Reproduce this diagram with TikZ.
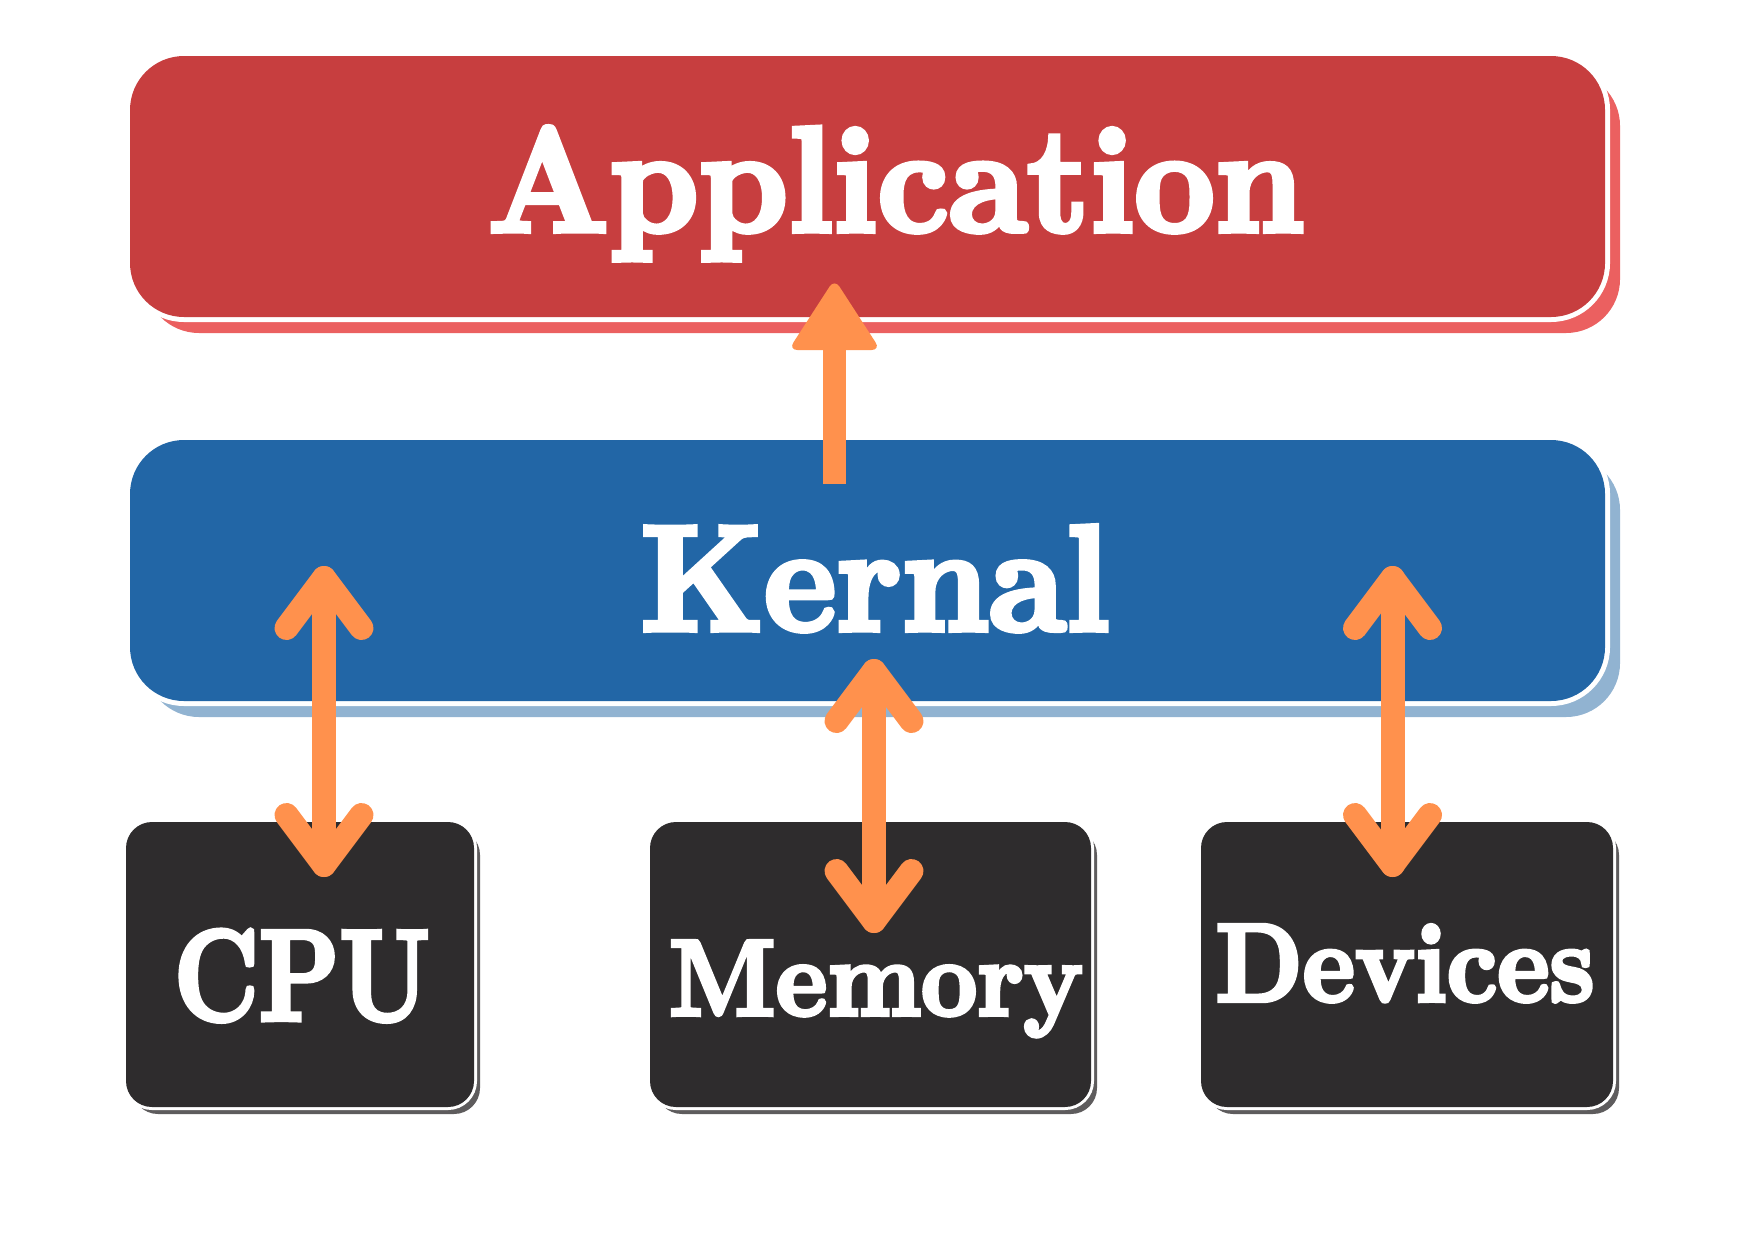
\documentclass[tikz,border=0pt]{standalone}
\usepackage{fontspec}
\usepackage{graphicx}
\newfontfamily\lblfont{lmroman10-bold.otf}[FakeBold=4]
\usetikzlibrary{shadows,calc}
\definecolor{appred}{HTML}{C73E3F}
\definecolor{appshadow}{HTML}{EB6060}
\definecolor{kblue}{HTML}{2266A6}
\definecolor{kshadow}{HTML}{91B3D1}
\definecolor{darkbox}{HTML}{2E2C2D}
\definecolor{darkshadow}{HTML}{5E5C5D}
\definecolor{arrorange}{HTML}{FF914D}
\begin{document}
\begin{tikzpicture}[x=1bp,y=-1bp,
  bigbox/.style={inner sep=0pt, outer sep=0pt, rounded corners=54bp, anchor=north west,
    minimum width=1475bp, minimum height=261bp,
    drop shadow={shadow xshift=15bp, shadow yshift=-16bp, fill=#1, opacity=1},
    preaction={draw=white, line width=10bp}},
  smallbox/.style={inner sep=0pt, outer sep=0pt, rounded corners=26bp, anchor=north west,
    minimum height=285bp, fill=darkbox,
    drop shadow={shadow xshift=6bp, shadow yshift=-7bp, fill=darkshadow, opacity=1},
    preaction={draw=white, line width=6bp}},
  lbl/.style={anchor=base, inner sep=0pt, text=white, font=\lblfont},
  dbl/.style={draw=arrorange, line width=24bp, line cap=round, line join=round},
  shaft/.style={draw=arrorange, line width=23bp},
]
\fill[white] (0,0) rectangle (1748,1240);
\useasboundingbox (0,0) rectangle (1748,1240);

% boxes
\node[bigbox=appshadow, fill=appred] (app) at (130,56) {};
\node[bigbox=kshadow, fill=kblue] (kern) at (130,440) {};
\node[smallbox, minimum width=348bp] (cpu) at (126,822) {};
\node[smallbox, minimum width=441bp] (mem) at (650,822) {};
\node[smallbox, minimum width=412bp] (dev) at (1201,822) {};

% labels
\node[lbl] (appl) at (896,231) {\resizebox{816bp}{104bp}{\lblfont Application}};
\node[lbl] (kernl) at (875,630) {\resizebox{469bp}{104bp}{\lblfont Kernal}};
\node[lbl] (cpul) at (302,1020) {\resizebox{256bp}{90bp}{\lblfont CPU}};
\node[lbl] (meml) at (876,1015) {\resizebox{414bp}{74bp}{\lblfont Memory}};
\node[lbl] (devl) at (1405,1001) {\resizebox{379bp}{76bp}{\lblfont Devices}};

% arrow kernel -> application
\coordinate (a1s) at (834.5,484);
\coordinate (a1t) at (834.5,279);
\draw[shaft] (a1s) -- ($(a1t)+(0,64)$);
\fill[arrorange, rounded corners=9bp] ($(a1t)+(-46,71)$) -- (a1t) -- ($(a1t)+(46,71)$) -- cycle;

% double arrows
\coordinate (c1t) at (324,578);
\coordinate (c1b) at (324,865);
\coordinate (m1t) at (874,671);
\coordinate (m1b) at (874,921);
\coordinate (d1t) at (1392.5,578);
\coordinate (d1b) at (1392.5,865);

\foreach \t/\b in {c1t/c1b, m1t/m1b, d1t/d1b}{
  \draw[dbl] (\t) -- (\b);
  \draw[dbl] ($(\t)+(-37.5,50)$) -- (\t) -- ($(\t)+(37.5,50)$);
  \draw[dbl] ($(\b)+(-37.5,-50)$) -- (\b) -- ($(\b)+(37.5,-50)$);
}
\end{tikzpicture}
\end{document}
